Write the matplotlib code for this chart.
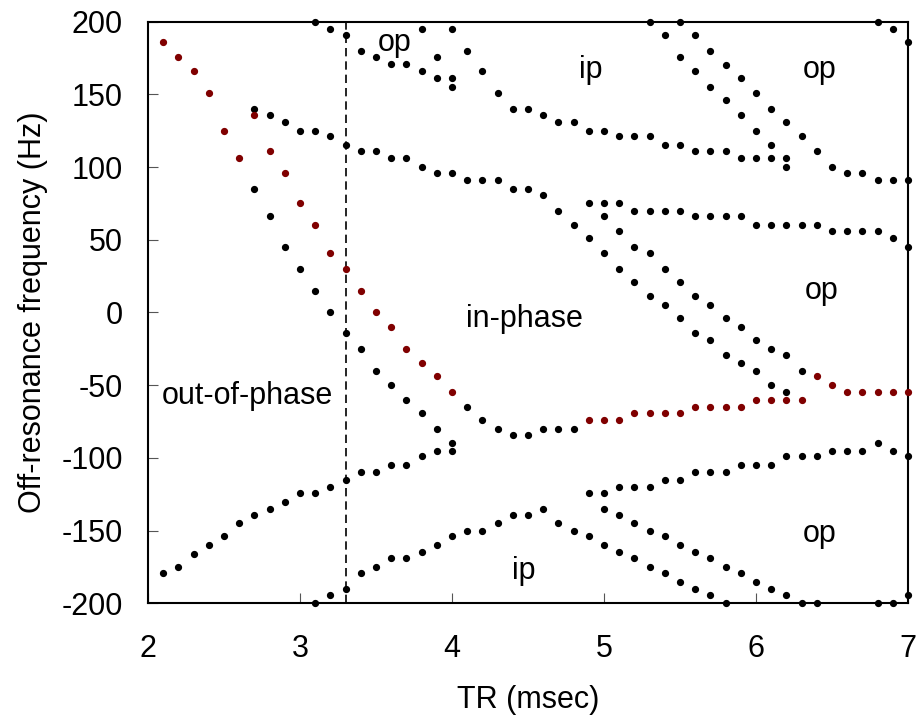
import matplotlib
matplotlib.use("Agg")
import matplotlib.pyplot as plt

plt.rcParams['font.family'] = ['Liberation Sans', 'DejaVu Sans']
plt.rcParams['axes.unicode_minus'] = False

# --- data: (TR msec, off-resonance Hz) ---
# red points (highlighted branch)
red_tr = [2.1, 2.2, 2.3, 2.4, 2.5, 2.6, 2.7, 2.8, 2.9, 3.0, 3.1, 3.2, 3.3, 3.4, 3.5,
          3.6, 3.7, 3.8, 3.9, 4.0,
          4.9, 5.0, 5.1, 5.2, 5.3, 5.4, 5.5, 5.6, 5.7, 5.8, 5.9, 6.0, 6.1, 6.2, 6.3,
          6.4, 6.5, 6.6, 6.7, 6.8, 6.9, 7.0]
red_hz = [186, 176, 166, 151, 125, 106, 136, 111, 96, 75, 60, 41, 30, 15, 0,
          -10, -25, -35, -44, -55,
          -74, -74, -74, -69, -69, -69, -69, -65, -65, -65, -65, -60, -60, -60, -60,
          -44, -50, -55, -55, -55, -55, -55]

# black branches
top1_tr = [3.1, 3.2, 3.3, 3.4, 3.5, 3.6, 3.7, 3.8, 3.9, 4.0, 4.0, 3.8, 3.9]
top1_hz = [200, 195, 191, 180, 176, 171, 171, 166, 161, 161, 155, 195, 176]

top2_tr = [4.0, 4.1, 4.2, 4.3, 4.4, 4.5, 4.6, 4.7, 4.8, 4.9, 5.0, 5.1, 5.2, 5.3,
           5.4, 5.5, 5.6, 5.7, 5.8, 5.9, 6.0, 6.1, 6.2, 6.2]
top2_hz = [195, 180, 166, 151, 140, 140, 136, 131, 131, 125, 125, 121, 121, 121,
           115, 115, 111, 111, 111, 106, 106, 106, 106, 100]

top3_tr = [5.3, 5.4, 5.5, 5.6, 5.7, 5.8, 5.9, 6.0, 6.1]
top3_hz = [200, 191, 176, 166, 155, 146, 136, 125, 115]

top4_tr = [5.5, 5.6, 5.7, 5.8, 5.9, 6.0, 6.1, 6.2, 6.3, 6.4, 6.5, 6.6, 6.7, 6.8,
           6.9, 7.0, 6.8, 6.9, 7.0]
top4_hz = [200, 191, 180, 170, 161, 151, 140, 131, 121, 111, 100, 96, 96, 91,
           91, 91, 200, 195, 186]

mid1_tr = [2.7, 2.8, 2.9, 3.0, 3.1, 3.2, 3.3, 3.4, 3.5, 3.6, 3.7, 3.8, 3.9, 4.0,
           4.1, 4.2, 4.3, 4.4, 4.5, 4.6, 4.7, 4.8, 4.9, 5.0, 5.1, 5.2, 5.3, 5.4,
           5.5, 5.6, 5.7, 5.8, 5.9, 6.0, 6.1, 6.2]
mid1_hz = [140, 136, 131, 125, 125, 121, 115, 111, 111, 106, 106, 100, 96, 96,
           91, 91, 91, 85, 85, 81, 70, 60, 51, 41, 30, 21, 11, 5,
           -4, -14, -19, -29, -35, -40, -50, -55]

mid2_tr = [4.9, 5.0, 5.1, 5.2, 5.3, 5.4, 5.5, 5.6, 5.7, 5.8, 5.9, 6.0, 6.1, 6.2,
           6.3, 6.4, 6.5, 6.6, 6.7, 6.8, 6.9, 7.0]
mid2_hz = [75, 75, 75, 70, 70, 70, 70, 66, 66, 66, 66, 60, 60, 60,
           60, 60, 56, 56, 56, 56, 51, 45]

mid3_tr = [5.0, 5.1, 5.2, 5.3, 5.4, 5.5, 5.6, 5.7, 5.8, 5.9, 6.0, 6.1, 6.2, 6.3]
mid3_hz = [66, 56, 45, 41, 30, 21, 11, 5, -4, -10, -19, -25, -29, -40]

mid4_tr = [2.7, 2.8, 2.9, 3.0, 3.1, 3.2, 3.3, 3.4, 3.5, 3.6, 3.7, 3.8, 3.9, 4.0,
           4.1, 4.2, 4.3, 4.4, 4.5, 4.6, 4.7, 4.8]
mid4_hz = [85, 66, 45, 30, 15, 0, -14, -25, -40, -50, -60, -69, -80, -90,
           -65, -74, -80, -84, -84, -80, -80, -80]

low1_tr = [2.1, 2.2, 2.3, 2.4, 2.5, 2.6, 2.7, 2.8, 2.9, 3.0, 3.1, 3.2, 3.3, 3.4,
           3.5, 3.6, 3.7, 3.8, 3.9, 4.0]
low1_hz = [-179, -175, -166, -160, -154, -145, -139, -135, -130, -124, -124, -120,
           -115, -110, -110, -105, -105, -99, -95, -95]

low2_tr = [3.1, 3.2, 3.3, 3.4, 3.5, 3.6, 3.7, 3.8, 3.9, 4.0, 4.1, 4.2, 4.3, 4.4,
           4.5, 4.6, 4.7, 4.8, 4.9, 5.0, 5.1, 5.2, 5.3, 5.4, 5.5, 5.6, 5.7, 5.8]
low2_hz = [-200, -194, -190, -179, -175, -169, -169, -165, -160, -154, -150, -150,
           -145, -139, -139, -135, -145, -150, -154, -160, -165, -169, -175, -179,
           -185, -190, -194, -200]

low3_tr = [4.9, 5.0, 5.1, 5.2, 5.3, 5.4, 5.5, 5.6, 5.7, 5.8, 5.9, 6.0, 6.1, 6.2,
           6.3, 6.4, 6.5, 6.6, 6.7, 6.8, 6.9, 7.0]
low3_hz = [-124, -124, -120, -120, -120, -115, -115, -110, -110, -110, -105, -105,
           -105, -99, -99, -99, -95, -95, -95, -90, -95, -99]

low4_tr = [5.0, 5.1, 5.2, 5.3, 5.4, 5.5, 5.6, 5.7, 5.8, 5.9, 6.0, 6.1, 6.2, 6.3,
           6.4, 6.8, 6.9, 7.0]
low4_hz = [-135, -139, -145, -150, -154, -160, -165, -169, -175, -179, -185, -190,
           -194, -200, -200, -200, -200, -194]

black_branches = [(top1_tr, top1_hz), (top2_tr, top2_hz), (top3_tr, top3_hz),
                  (top4_tr, top4_hz), (mid1_tr, mid1_hz), (mid2_tr, mid2_hz),
                  (mid3_tr, mid3_hz), (mid4_tr, mid4_hz), (low1_tr, low1_hz),
                  (low2_tr, low2_hz), (low3_tr, low3_hz), (low4_tr, low4_hz)]

# region labels: (text, TR, Hz)
labels = [("op", 3.625, 180), ("ip", 4.91, 161), ("op", 6.42, 161),
          ("op", 6.43, 9), ("op", 6.42, -158), ("ip", 4.47, -183),
          ("in-phase", 4.48, -10), ("out-of-phase", 2.655, -63)]

cutoff_tr = 3.3

# --- figure ---
fig, ax = plt.subplots(figsize=(9.19, 7.2), dpi=100)
fig.subplots_adjust(left=0.161, right=0.988, top=0.970, bottom=0.162)

for tr, hz in black_branches:
    ax.plot(tr, hz, 'o', color='black', markersize=4.2, clip_on=False, zorder=3)
ax.plot(red_tr, red_hz, 'o', color='#800000', markersize=4.2, clip_on=False, zorder=4)

ax.axvline(cutoff_tr, color='black', linestyle=(0, (5, 3)), linewidth=1.2, zorder=2)

for txt, x, y in labels:
    ax.text(x, y, txt, fontsize=22, ha='center', va='baseline')

ax.set_xlim(2, 7)
ax.set_ylim(-200, 200)
ax.set_xticks([2, 3, 4, 5, 6, 7])
ax.set_yticks(range(-200, 201, 50))
ax.tick_params(axis='both', direction='in', length=7, width=0.8, color='#555555',
               labelsize=22)
ax.tick_params(axis='x', pad=22)
ax.tick_params(axis='y', pad=18)
for s in ax.spines.values():
    s.set_linewidth(1.5)

ax.set_xlabel("TR (msec)", fontsize=22, labelpad=15)
ax.set_ylabel("Off-resonance frequency (Hz)", fontsize=22, labelpad=10)

fig.savefig("out.png", dpi=100)
